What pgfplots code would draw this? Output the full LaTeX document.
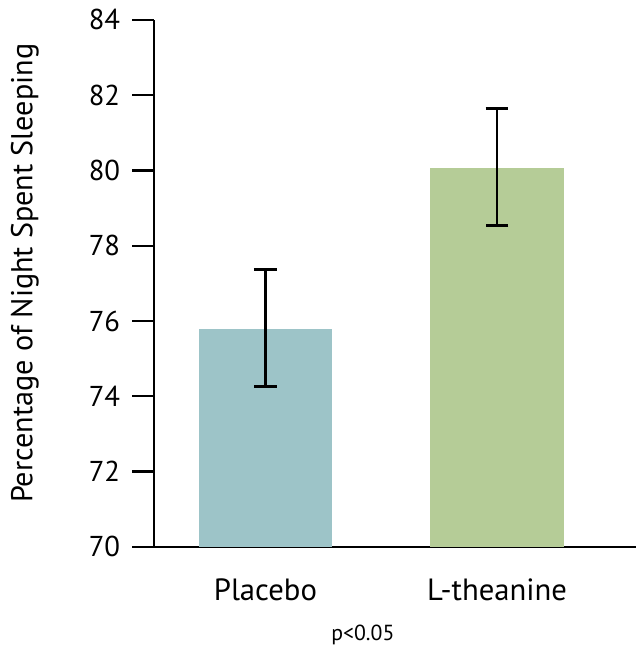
\documentclass[border=0pt]{standalone}
\usepackage{fontspec}
\setmainfont{PT Sans}
\usepackage{pgfplots}
\pgfplotsset{compat=1.18}
\definecolor{placebo}{HTML}{9DC4C8}
\definecolor{theanine}{HTML}{B5CC97}
\begin{document}
\begin{tikzpicture}
\begin{axis}[
  scale only axis, width=485bp, height=530bp,
  xmin=-0.4807, xmax=1.601, ymin=70, ymax=84,
  axis x line*=bottom, axis y line*=left,
  axis line style={line width=2.3bp, black},
  ytick={70,72,...,84},
  xtick={0,1}, xticklabels={Placebo,L-theanine},
  x tick style={draw=none},
  y tick style={line width=2.3bp, black},
  tick align=outside, major tick length=22bp,
  /pgf/number format/assume math mode=true,
  yticklabel style={font=\fontsize{29}{32}\selectfont, xshift=-8.7bp},
  xticklabel style={font=\fontsize{31}{34}\selectfont, yshift=-7bp},
  ylabel={Percentage of Night Spent Sleeping},
  ylabel style={font=\fontsize{30.5}{34}\selectfont, at={(rel axis cs:-0.268,0.519)}, anchor=center},
  clip=false,
]
\addplot[ybar, bar shift=0pt, bar width=0.575, fill=placebo, draw=none,
  error bars/.cd, y dir=both, y explicit,
  error bar style={line width=2.7bp, black},
  error mark options={rotate=90, mark size=11.5bp, line width=2.7bp, black}]
  coordinates {(0,75.78) += (0,1.59) -= (0,1.53)};
\addplot[ybar, bar shift=0pt, bar width=0.575, fill=theanine, draw=none,
  error bars/.cd, y dir=both, y explicit,
  error bar style={line width=2.7bp, black},
  error mark options={rotate=90, mark size=11.5bp, line width=2.7bp, black}]
  coordinates {(1,80.06) += (0,1.59) -= (0,1.53)};
\node[font=\fontsize{22}{25}\selectfont] at (rel axis cs:0.433,-0.167) {p<0.05};
\path (rel axis cs:-0.3196,-0.18491) rectangle (rel axis cs:1.00412,1.03774);
\end{axis}
\end{tikzpicture}
\end{document}
